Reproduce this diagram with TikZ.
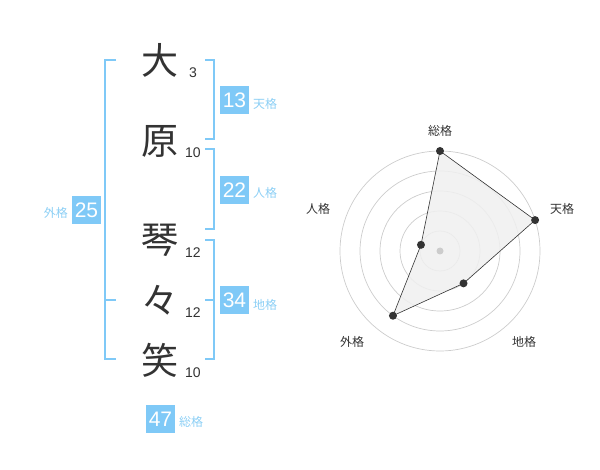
\documentclass[tikz,border=0pt]{standalone}
\usepackage{fontspec}
\setmainfont{Liberation Sans}
\newfontfamily\cjk{Noto Sans CJK JP}
\definecolor{brk}{HTML}{7FC9F7}
\definecolor{lbl}{HTML}{8CCFF5}
\definecolor{ink}{HTML}{333333}
\definecolor{ring}{HTML}{CCCCCC}
\definecolor{area}{HTML}{F0F0F0}
\tikzset{
  kanji/.style={font=\cjk\fontsize{37}{37}\selectfont, text=ink, inner sep=0pt},
  stroke/.style={font=\fontsize{14}{14}\selectfont, text=ink, inner sep=0pt},
  valbox/.style={fill=brk, text=white, minimum width=29pt, minimum height=28pt, inner sep=0pt, font=\fontsize{21}{21}\selectfont},
  kaku/.style={font=\cjk\fontsize{12}{12}\selectfont, text=lbl, inner sep=0pt},
  bracket/.style={draw=brk, line width=2pt},
  rlabel/.style={font=\cjk\fontsize{12}{12}\selectfont, text=ink, inner sep=0pt},
  dot/.style={circle, fill=ink, minimum size=8pt, inner sep=0pt},
}
\begin{document}
\begin{tikzpicture}[x=1pt,y=-1pt]
\useasboundingbox (0,0) rectangle (600,470);
% characters
\node[kanji] (c1) at (160,60) {大};
\node[kanji] (c2) at (160,141) {原};
\node[kanji] (c3) at (160,240) {琴};
\node[kanji] (c4) at (160,300) {々};
\node[kanji] (c5) at (160,360) {笑};
\node[stroke] (n1) at (193,73) {3};
\node[stroke] (n2) at (193,153) {10};
\node[stroke] (n3) at (193,253) {12};
\node[stroke] (n4) at (193,313) {12};
\node[stroke] (n5) at (193,373) {10};
% brackets
\draw[bracket] (116,60) -- (105,60) -- (105,359) -- (116,359);
\draw[bracket] (105,300) -- (116,300);
\draw[bracket] (205,60) -- (214,60) -- (214,139) -- (205,139);
\draw[bracket] (205,149) -- (214,149) -- (214,229) -- (205,229);
\draw[bracket] (205,240) -- (214,240) -- (214,359) -- (205,359);
\draw[bracket] (214,300) -- (205,300);
% value boxes
\node[valbox] (v1) at (234.5,100) {13};
\node[kaku, anchor=west] (k1) at (253,104) {天格};
\node[valbox] (v2) at (234.5,190) {22};
\node[kaku, anchor=west] (k2) at (253,193) {人格};
\node[valbox] (v3) at (234.5,300) {34};
\node[kaku, anchor=west] (k3) at (253,305) {地格};
\node[valbox] (v4) at (86.5,210) {25};
\node[kaku, anchor=east] (k4) at (68,213) {外格};
\node[valbox] (v5) at (160.5,419) {47};
\node[kaku, anchor=west] (k5) at (179,422) {総格};
% radar
\begin{scope}[shift={(440,251)}, y=1pt]
  \foreach \r in {20,40,60,80,100} \draw[ring, line width=0.7pt] (0,0) circle[radius=\r];
  \coordinate (p1) at (90:100);
  \coordinate (p2) at (18:100);
  \coordinate (p3) at (-54:40);
  \coordinate (p4) at (-126:80);
  \coordinate (p5) at (162:20);
  \fill[area, opacity=0.85] (p1) -- (p2) -- (p3) -- (p4) -- (p5) -- cycle;
  \draw[ink, line width=0.6pt] (p1) -- (p2) -- (p3) -- (p4) -- (p5) -- cycle;
  \node[circle, fill=ring, minimum size=7pt, inner sep=0pt] (ctr) at (0,0) {};
  \foreach \p in {p1,p2,p3,p4,p5} \node[dot] at (\p) {};
\end{scope}
\node[rlabel] (r1) at (440,131) {総格};
\node[rlabel] (r2) at (562,209) {天格};
\node[rlabel] (r3) at (524,342) {地格};
\node[rlabel] (r4) at (352,342) {外格};
\node[rlabel] (r5) at (318,209) {人格};
\end{tikzpicture}
\end{document}
